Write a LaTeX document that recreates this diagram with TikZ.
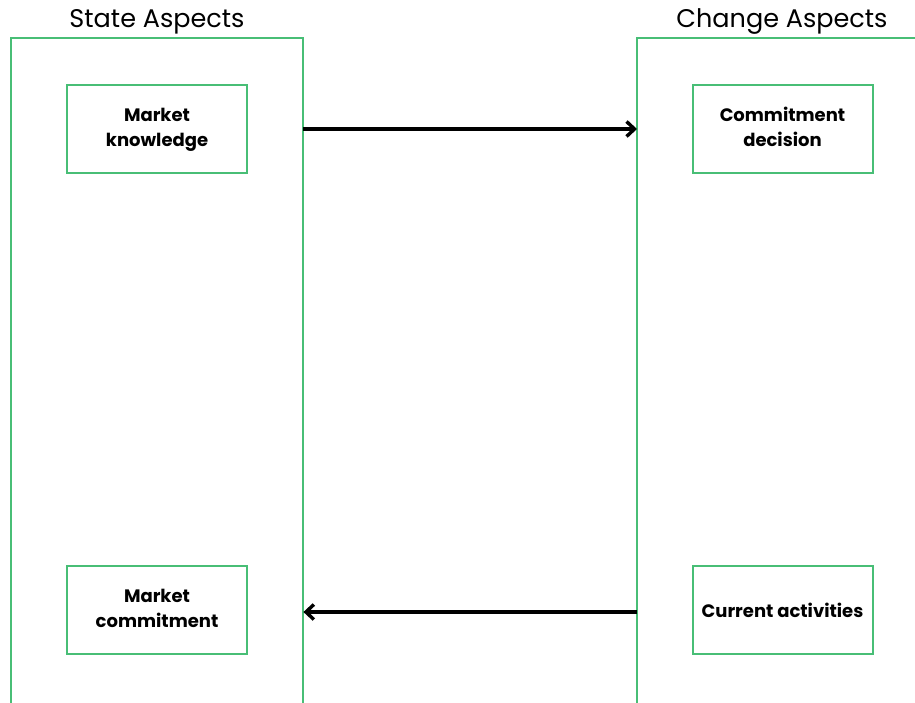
\documentclass[tikz,border=0pt]{standalone}
\usepackage{fontspec}
\setmainfont{Poppins}
\usetikzlibrary{arrows.meta}
\definecolor{frame}{RGB}{72,190,118}
\newcommand{\twolines}[2]{\raisebox{-2pt}{\begin{tabular}{@{}c@{}}#1\\#2\end{tabular}}}
\tikzset{
  panel/.style={rectangle, inner sep=0pt, minimum width=292pt, minimum height=680pt},
  itembox/.style={rectangle, draw=frame, line width=2pt, minimum width=180pt, minimum height=88pt,
    align=center, font=\fontsize{18}{24.5}\selectfont\bfseries, inner sep=2pt},
  heading/.style={font=\fontsize{25.5}{28}\selectfont},
  flow/.style={line width=3.6pt, -{Straight Barb[length=8pt, width=15pt, line width=3.4pt]}}
}
\begin{document}
\begin{tikzpicture}[x=1pt, y=-1pt]
  \useasboundingbox (0,0) rectangle (915,702);
  \clip (0,0) rectangle (915,702);
  % the two column panels, open at the bottom
  \node[panel, anchor=north west] (state) at (11,38) {};
  \node[panel, anchor=north west, minimum width=320pt] (change) at (637,38) {};
  \draw[frame, line width=2pt] (state.south west) |- (state.north east) -- (state.south east);
  \draw[frame, line width=2pt] (change.south west) |- (change.north east) -- (change.south east);
  % column headings
  \node[heading] (stateT) at (157,21.5) {State Aspects};
  \node[heading] (changeT) at (782,21.5) {Change Aspects};
  % items
  \node[itembox] (mk) at (157,129) {\twolines{Market}{knowledge}};
  \node[itembox] (cd) at (782.5,129) {\twolines{Commitment}{decision}};
  \node[itembox] (mc) at (157,610) {\twolines{Market}{commitment}};
  \node[itembox] (ca) at (782.5,610) {Current activities};
  % links between the panels
  \draw[flow] (mk.east -| state.east) -- (mk.east -| change.west);
  \draw[flow] ([yshift=-2pt]ca.west -| change.west) -- ([yshift=-2pt]ca.west -| state.east);
\end{tikzpicture}
\end{document}
